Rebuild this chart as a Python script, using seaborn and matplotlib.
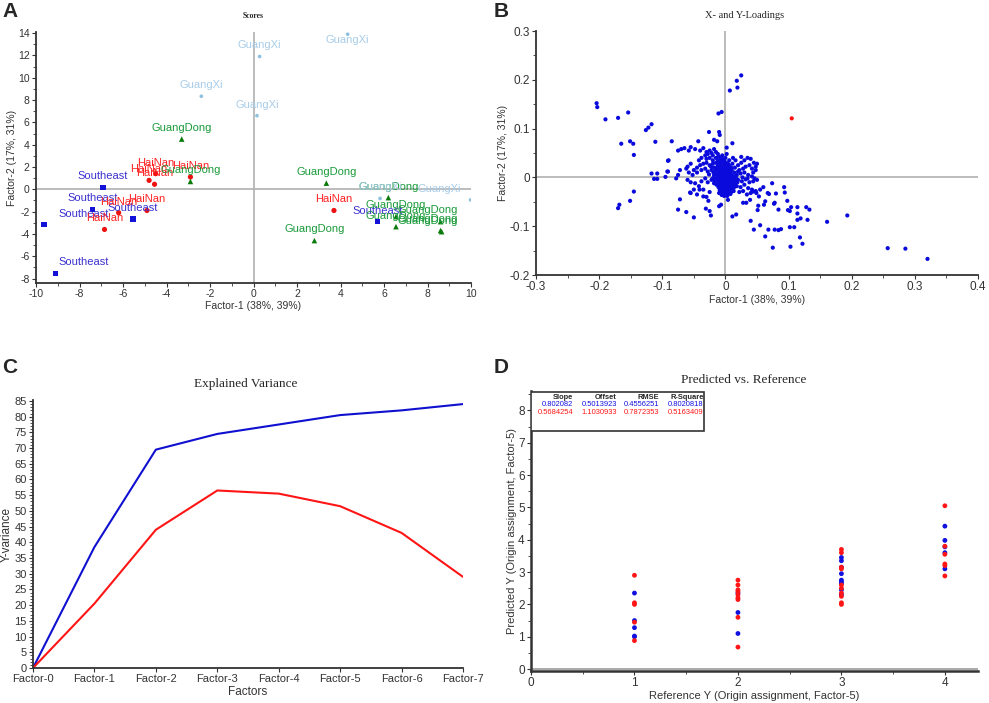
import numpy as np
import pandas as pd
import matplotlib
matplotlib.use('Agg')
import matplotlib.pyplot as plt
import seaborn as sns
from matplotlib.ticker import MultipleLocator

# ---- A: scores ----
southeast_x = [-6.92, -7.39, -9.63, -9.11, -5.54, 5.71]
southeast_y = [0.16, -1.80, -3.18, -7.55, -2.67, -2.91]
hainan_x = [-4.80, -4.55, -4.50, -2.90, -6.20, -6.85, -4.90, 3.70]
hainan_y = [0.80, 0.45, 1.40, 1.10, -2.10, -3.60, -1.90, -1.90]
guangdong_x = [-3.30, -2.90, 3.35, 2.80, 6.20, 6.55, 6.55, 8.60, 8.60, 8.65]
guangdong_y = [4.50, 0.70, 0.55, -4.60, -0.75, -2.45, -3.35, -2.90, -3.70, -3.80]
guangxi_x = [0.28, 4.33, -2.40, 0.16, 5.82, 9.98]
guangxi_y = [11.90, 13.90, 8.34, 6.60, -0.82, -0.95]

# ---- B: loadings (outer points, in real units) ----
load_outer = [
    (-0.204, 0.152), (-0.203, 0.144), (-0.190, 0.119), (-0.170, 0.122), (-0.154, 0.133),
    (-0.165, 0.069), (-0.151, 0.074), (-0.146, 0.069), (-0.145, 0.046), (-0.126, 0.097),
    (-0.122, 0.102), (-0.117, 0.109), (-0.111, 0.073), (-0.117, 0.008), (-0.108, 0.008),
    (-0.113, -0.003), (-0.108, -0.003), (-0.095, 0.001), (-0.091, 0.034), (-0.091, 0.012),
    (-0.085, 0.074), (-0.145, -0.029), (-0.151, -0.048), (-0.168, -0.056), (-0.170, -0.063),
    (0.007, 0.178), (0.018, 0.198), (0.019, 0.184), (0.025, 0.209), (-0.011, 0.131),
    (-0.006, 0.134), (-0.026, 0.093), (-0.043, 0.074), (-0.010, 0.093), (-0.009, 0.087),
    (-0.018, 0.077), (-0.013, 0.074), (0.011, 0.070), (0.002, 0.061),
    (0.074, -0.012), (0.093, -0.020), (0.094, -0.031), (0.080, -0.033), (0.098, -0.048),
    (0.104, -0.061), (0.114, -0.061), (0.128, -0.061), (0.133, -0.066), (0.099, -0.067),
    (0.102, -0.069), (0.114, -0.074), (0.114, -0.087), (0.119, -0.084), (0.130, -0.087),
    (0.161, -0.091), (0.193, -0.078), (0.102, -0.102), (0.109, -0.102), (0.118, -0.123),
    (0.122, -0.136), (0.103, -0.142), (0.075, -0.144), (0.063, -0.121), (0.068, -0.107),
    (0.078, -0.107), (0.084, -0.108), (0.088, -0.106), (0.055, -0.098), (0.045, -0.107),
    (0.040, -0.089), (0.084, -0.066), (0.078, -0.052), (0.077, -0.054), (0.061, -0.056),
    (0.063, -0.049), (0.052, -0.058), (0.051, -0.067), (0.069, -0.034), (0.067, -0.032),
    (0.060, -0.020), (0.055, -0.025), (0.049, -0.032), (0.044, -0.029), (0.053, -0.039),
    (0.039, -0.046), (0.033, -0.052), (0.028, -0.052), (0.017, -0.076), (0.011, -0.080),
    (0.257, -0.145), (0.285, -0.146), (0.320, -0.167),
    (-0.075, -0.066), (-0.062, -0.071), (-0.050, -0.082), (-0.072, -0.045), (-0.031, -0.064),
    (-0.025, -0.069), (-0.023, -0.078), (-0.010, -0.059), (-0.007, -0.056), (-0.027, -0.048),
    (-0.035, -0.039), (0.004, -0.046), (-0.056, -0.031), (-0.041, -0.025),
]
# dense cluster around the origin, in thousandths
load_cluster = [
    (-40, 55), (-35, 60), (-30, 52), (-28, 48), (-25, 55), (-22, 50), (-20, 45), (-18, 58),
    (-15, 52), (-12, 48), (-32, 45), (-38, 40), (-42, 35), (-30, 38), (-25, 40), (-20, 35),
    (-15, 40), (-10, 42), (-8, 35), (-5, 45), (-45, 20), (-40, 25), (-35, 28), (-30, 30),
    (-25, 25), (-20, 28), (-15, 30), (-12, 25), (-8, 28), (-5, 30), (-50, 15), (-45, 10),
    (-38, 15), (-32, 18), (-28, 12), (-22, 15), (-18, 20), (-12, 18), (-8, 15), (-3, 20),
    (-60, 22), (-55, 28), (-62, 18), (-58, 10), (-52, 5), (-65, 60), (-58, 55), (-55, 62),
    (-48, 58), (-70, 58), (-72, 15), (-75, 5), (-78, -2), (-60, -5), (-55, -10), (-48, -12),
    (-42, -18), (-38, -8), (-32, -2), (-28, -10), (-22, -5), (-18, -12), (-12, -8), (-8, -15),
    (-5, -5), (-2, -10), (-10, 10), (-6, 8), (-3, 12), (0, 15), (3, 10), (6, 5), (-12, 2),
    (-8, 0), (-4, 3), (0, 2), (4, 0), (8, -2), (-10, -10), (-6, -12), (-2, -18), (2, -15),
    (5, -10), (10, -8), (-8, -20), (-4, -25), (0, -28), (4, -22), (8, -18), (12, -15),
    (-6, -30), (-2, -32), (2, -30), (6, -28), (10, -25), (0, -35), (-3, -22), (1, -8),
    (-1, 5), (2, 22), (-2, 25), (5, 18), (8, 12), (10, 5), (12, 0), (15, -5), (14, 10),
    (16, -12), (-14, -15), (-16, -3), (-5, -2), (3, -5), (7, -12), (-1, -14), (-7, -5),
    (9, -30), (3, -38), (-4, -35), (1, 30), (4, 28), (-3, 35), (0, 40), (2, 48), (-5, 38),
    (15, 20), (20, 25), (25, 30), (30, 35), (35, 40), (40, 38), (45, 30), (50, 28), (22, 15),
    (28, 18), (32, 22), (38, 25), (42, 18), (48, 15), (18, 5), (24, 8), (30, 10), (36, 5),
    (42, 2), (46, -2), (20, -5), (26, -8), (32, -4), (38, -10), (44, -8), (50, -5),
    (18, -18), (24, -20), (30, -15), (36, -22), (42, -25), (48, -28), (22, -30), (28, -28),
    (34, -35), (40, -32), (12, 40), (16, 35), (25, 42), (48, 22), (44, 10), (35, -2),
    (27, 0), (20, 12), (-90, 35), (-92, 12), (-75, 55), (-50, -25), (-45, -35), (-55, -32),
    (-35, -25), (-30, -40), (-25, -30), (-6, 18), (-9, 4), (-2, -3), (6, -6), (-11, -20),
    (-4, -12), (3, -25), (-1, -22), (5, -32), (-7, 22), (-17, 8), (11, -20), (13, -28),
    # densest core
    (-14, 6), (-11, 12), (-9, 20), (-7, 2), (-5, 10), (-3, 6), (-1, 10), (1, 12), (3, 4),
    (5, 1), (7, 8), (9, -5), (-13, -4), (-11, -14), (-9, -9), (-7, -18), (-5, -16), (-3, -8),
    (-1, -2), (1, -4), (2, -10), (4, -14), (6, -18), (7, -24), (-9, -26), (-7, -24), (-5, -28),
    (-3, -30), (-1, -26), (1, -20), (3, -18), (5, -22), (-2, -38), (1, -34), (-6, -36),
    (-10, -32), (8, -34), (11, -12), (13, -6), (-16, 14), (-18, 4), (-20, -2), (-19, 10),
    (-23, 22), (-26, 6), (-17, -8), (-14, 20), (-10, 28), (-12, 34), (0, 22), (4, 16),
    (6, 24), (9, 20), (11, 28), (14, 2), (17, -2), (19, -10), (15, -18), (13, -22), (-3, 15),
    (-6, -8), (0, -12), (2, 6), (-8, 8), (-4, -4), (3, -30), (-1, 32), (6, 35), (10, 15),
]
y_loading_x = [0.105]
y_loading_y = [0.121]

# ---- C: explained variance ----
factors = ['Factor-0', 'Factor-1', 'Factor-2', 'Factor-3',
           'Factor-4', 'Factor-5', 'Factor-6', 'Factor-7']
calib_var = [0, 38.5, 69.5, 74.5, 77.5, 80.5, 82.0, 84.0]
valid_var = [0, 20.5, 44.0, 56.5, 55.5, 51.5, 43.0, 29.0]

# ---- D: predicted vs reference ----
calib_ref = [1] * 5 + [2] * 3 + [3] * 9 + [4] * 5
calib_pred = [2.35, 1.50, 1.28, 1.02, 1.00,
              2.35, 1.75, 1.10,
              3.45, 3.35, 3.15, 2.95, 2.75, 2.70, 2.65, 2.45, 2.30,
              4.42, 3.98, 3.78, 3.60, 3.10]
valid_ref = [1] * 5 + [2] * 9 + [3] * 10 + [4] * 6
valid_pred = [2.90, 2.05, 2.00, 1.45, 0.88,
              2.75, 2.60, 2.45, 2.40, 2.30, 2.20, 2.15, 1.60, 0.68,
              3.70, 3.60, 3.15, 3.10, 2.60, 2.50, 2.35, 2.25, 2.05, 2.00,
              5.05, 3.80, 3.55, 3.25, 3.20, 2.88]
stat_names = ['Slope', 'Offset', 'RMSE', 'R-Square']
calib_stats = ['0.802082', '0.5013923', '0.4556251', '0.8020818']
valid_stats = ['0.5684254', '1.1030933', '0.7872353', '0.5163409']

sns.set_style('ticks')
plt.rcParams['font.family'] = ['Liberation Sans', 'DejaVu Sans']
plt.rcParams['axes.unicode_minus'] = False
plt.rcParams['axes.edgecolor'] = '#333333'
plt.rcParams['xtick.color'] = '#333333'
plt.rcParams['ytick.color'] = '#333333'

W, H = 989, 703
fig = plt.figure(figsize=(W / 100, H / 100), dpi=100)


def px_axes(left, top, right, bottom):
    return fig.add_axes([left / W, 1 - bottom / H, (right - left) / W, (bottom - top) / H])


def style_axes(ax, size):
    sns.despine(ax=ax)
    ax.tick_params(axis='both', which='major', labelsize=size, length=3, width=0.8, pad=1.5)
    ax.tick_params(axis='both', which='minor', length=2, width=0.6)
    for s in ['left', 'bottom']:
        ax.spines[s].set_linewidth(1.3)


serif = ['Liberation Serif', 'DejaVu Serif']

# ===== A =====
axA = px_axes(36, 32, 471, 283)
axA.axhline(0, color='#b0b0b0', lw=1.2, zorder=0)
axA.axvline(0, color='#b0b0b0', lw=1.2, zorder=0)
groups = [
    ('Southeast', southeast_x, southeast_y, 's', '#1212d8', '#3b30d0', 14, 2.2),
    ('HaiNan', hainan_x, hainan_y, 'o', '#ee1111', '#ff2020', 14, 1.5),
    ('GuangDong', guangdong_x, guangdong_y, '^', '#0a7a0a', '#1a9a3a', 16, 2.0),
    ('GuangXi', guangxi_x, guangxi_y, 'o', '#8ec0e0', '#a8cce8', 7, 1.45),
]
for name, gx, gy, mk, mcol, tcol, sz, half in groups:
    sns.scatterplot(x=gx, y=gy, marker=mk, color=mcol, s=sz, edgecolor='none', ax=axA, zorder=3)
    for px, py in zip(gx, gy):
        lx = np.clip(px, -10 + half, 10 - half)
        ly = min(py + 1.0, 13.4)
        axA.text(lx, ly, name, color=tcol, fontsize=8, ha='center', va='center', zorder=4)
axA.set_xlim(-10, 10)
axA.set_ylim(-8.4, 14.1)
axA.xaxis.set_major_locator(MultipleLocator(2))
axA.xaxis.set_minor_locator(MultipleLocator(1))
axA.yaxis.set_major_locator(MultipleLocator(2))
axA.yaxis.set_minor_locator(MultipleLocator(1))
style_axes(axA, 7.5)
axA.set_xlabel('Factor-1 (38%, 39%)', fontsize=7.5, color='#333333', labelpad=1)
axA.set_ylabel('Factor-2 (17%, 31%)', fontsize=7.5, color='#333333', labelpad=1)
fig.text(253 / W, 1 - 16 / H, 'Scores', fontsize=5.5, weight='bold', ha='center', va='center',
         family=serif)

# ===== B =====
axB = px_axes(536, 31, 978, 275)
axB.axhline(0, color='#b0b0b0', lw=1.2, zorder=0)
axB.axvline(0, color='#b0b0b0', lw=1.2, zorder=0)
bx = [p[0] for p in load_outer] + [c[0] / 1000 for c in load_cluster]
by = [p[1] for p in load_outer] + [c[1] / 1000 for c in load_cluster]
sns.scatterplot(x=bx, y=by, color='#0a0adc', s=9, edgecolor='none', ax=axB, zorder=3)
sns.scatterplot(x=y_loading_x, y=y_loading_y, color='#ff1010', s=9, edgecolor='none', ax=axB, zorder=3)
axB.set_xlim(-0.3, 0.4)
axB.set_ylim(-0.2, 0.3)
axB.xaxis.set_major_locator(MultipleLocator(0.1))
axB.xaxis.set_minor_locator(MultipleLocator(0.05))
axB.yaxis.set_major_locator(MultipleLocator(0.1))
axB.yaxis.set_minor_locator(MultipleLocator(0.05))
axB.xaxis.set_major_formatter(plt.FuncFormatter(lambda v, p: f'{v:g}'))
axB.yaxis.set_major_formatter(plt.FuncFormatter(lambda v, p: f'{v:g}'))
style_axes(axB, 8.5)
axB.set_xlabel('Factor-1 (38%, 39%)', fontsize=7.5, color='#333333', labelpad=1)
axB.set_ylabel('Factor-2 (17%, 31%)', fontsize=7.5, color='#333333', labelpad=1)
fig.text(745 / W, 1 - 16 / H, 'X- and Y-Loadings', fontsize=7.5, ha='center', va='center',
         family=serif)

# ===== C =====
axC = px_axes(33, 400, 463, 668)
xpos = np.arange(len(factors))
sns.lineplot(x=xpos, y=calib_var, color='#1010d0', lw=1.5, ax=axC)
sns.lineplot(x=xpos, y=valid_var, color='#ff1515', lw=1.5, ax=axC)
axC.set_xlim(0, len(factors) - 1)
axC.set_ylim(0, 85.3)
axC.set_xticks(xpos)
axC.set_xticklabels(factors)
axC.yaxis.set_major_locator(MultipleLocator(5))
axC.yaxis.set_minor_locator(MultipleLocator(1))
style_axes(axC, 8)
axC.set_xlabel('Factors', fontsize=8.5, color='#333333', labelpad=1)
axC.set_ylabel('Y-variance', fontsize=8.5, color='#333333', labelpad=1)
fig.text(246 / W, 1 - 384 / H, 'Explained Variance', fontsize=9.5, ha='center', va='center',
         family=serif)

# ===== D =====
axD = px_axes(531, 391, 978, 671)
axD.axhline(0, color='#999999', lw=1.2, zorder=0)
sns.scatterplot(x=calib_ref, y=calib_pred, color='#1010e0', s=12, edgecolor='none', ax=axD, zorder=3)
sns.scatterplot(x=valid_ref, y=valid_pred, color='#ff1515', s=12, edgecolor='none', ax=axD, zorder=3)
axD.set_xlim(0, 4.32)
axD.set_ylim(-0.06, 8.6)
axD.xaxis.set_major_locator(MultipleLocator(1))
axD.xaxis.set_minor_locator(MultipleLocator(0.5))
axD.yaxis.set_major_locator(MultipleLocator(1))
axD.yaxis.set_minor_locator(MultipleLocator(0.5))
style_axes(axD, 8.5)
for s in ['left', 'bottom']:
    axD.spines[s].set_linewidth(1.8)
axD.set_xlabel('Reference Y (Origin assignment, Factor-5)', fontsize=8, color='#333333', labelpad=1)
axD.set_ylabel('Predicted Y (Origin assignment, Factor-5)', fontsize=8, color='#333333', labelpad=1)
fig.text(744 / W, 1 - 380 / H, 'Predicted vs. Reference', fontsize=9.5, ha='center', va='center',
         family=serif)
# statistics box
box = plt.Rectangle((0.0, 0.858), 0.388, 0.14, transform=axD.transAxes, fill=True,
                    facecolor='white', edgecolor='#333333', lw=1.2, zorder=5)
axD.add_patch(box)
col_right = [0.094, 0.192, 0.287, 0.386]
for cx, nm, cv, vv in zip(col_right, stat_names, calib_stats, valid_stats):
    axD.text(cx, 0.977, nm, transform=axD.transAxes, ha='right', va='center', fontsize=5.4,
             weight='bold', zorder=6)
    axD.text(cx, 0.952, cv, transform=axD.transAxes, ha='right', va='center', fontsize=5.4,
             color='#1010e0', zorder=6)
    axD.text(cx, 0.924, vv, transform=axD.transAxes, ha='right', va='center', fontsize=5.4,
             color='#ff1515', zorder=6)

# panel letters
for lx, ly, letter in [(2, 2, 'A'), (494, 2, 'B'), (2, 358, 'C'), (494, 358, 'D')]:
    fig.text(lx / W, 1 - ly / H, letter, fontsize=15, weight='bold', ha='left', va='top')

fig.savefig('out.png', dpi=100)
